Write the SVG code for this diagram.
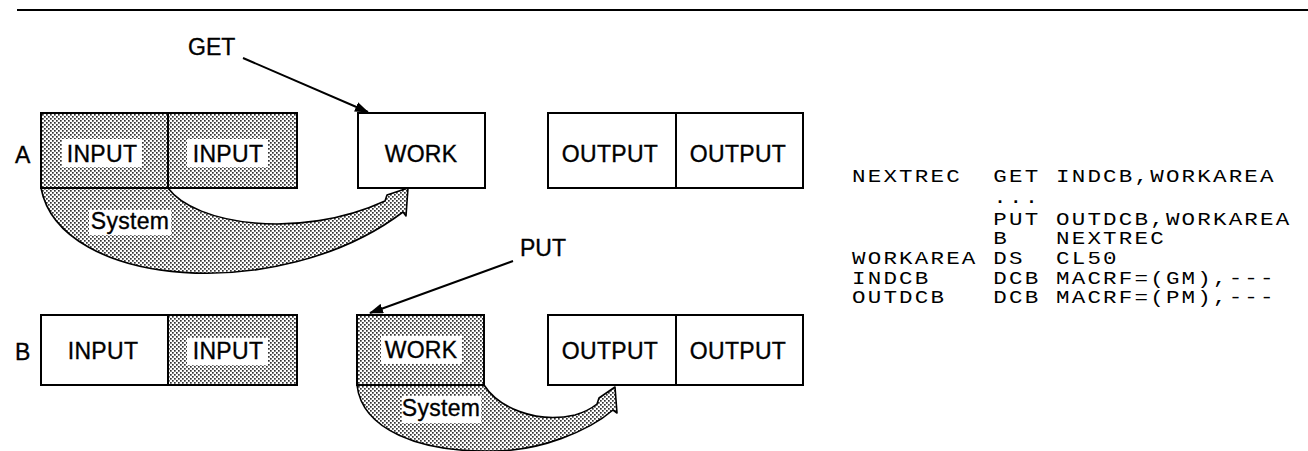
<svg xmlns="http://www.w3.org/2000/svg" width="1308" height="451" viewBox="0 0 1308 451">
  <defs>
    <!-- halftone stipple used for shaded buffers and the system-move arrows -->
    <pattern id="dots" width="4" height="4" patternUnits="userSpaceOnUse">
      <rect width="4" height="4" fill="#fff"/>
      <rect x="0" y="0" width="1.7" height="1.7" fill="#333"/>
      <rect x="2" y="2" width="1.7" height="1.7" fill="#333"/>
    </pattern>
    <marker id="head" viewBox="0 0 14 10" refX="13" refY="5" markerWidth="14" markerHeight="10" markerUnits="userSpaceOnUse" orient="auto">
      <path d="M0,0 L14,5 L0,10 Z" fill="#000"/>
    </marker>
    <style>
      .box { stroke: #000; stroke-width: 2; }
      .plain { fill: #fff; }
      .shade { fill: url(#dots); }
      .lbl { font-family: "Liberation Sans", Arial, sans-serif; font-size: 23px; fill: #000; stroke: #000; stroke-width: 0.35; text-anchor: middle; letter-spacing: 0.3px; }
      .tag { font-family: "Liberation Sans", Arial, sans-serif; font-size: 23px; fill: #000; stroke: #000; stroke-width: 0.35; }
      .bg { fill: #fff; }
      .flow { fill: url(#dots); stroke: #000; stroke-width: 1.6; stroke-linejoin: round; }
      .ptr { stroke: #000; stroke-width: 2; fill: none; marker-end: url(#head); }
      .code { font-family: "Liberation Mono", "Courier New", monospace; font-size: 18.5px; letter-spacing: 1.8px; fill: #000; }
    </style>
  </defs>

  <rect width="1308" height="451" fill="#fff"/>
  <!-- page rule -->
  <line x1="17" y1="10" x2="1308" y2="10" stroke="#000" stroke-width="2"/>

  <!-- connectors: macro pointers and system moves -->
  <g id="connectors">
    <line class="ptr" x1="243" y1="58" x2="368" y2="112"/>
    <text class="tag" x="188" y="55">GET</text>
    <line class="ptr" x1="513" y1="261" x2="370" y2="313"/>
    <text class="tag" x="520" y="256">PUT</text>

    <!-- A: system moves record from input buffer into work area -->
    <path class="flow" d="M41,188 L168,188 C195,225 300,240 385,201 L387,195 L408,188 L406,216 L403,212 C280,305 60,288 41,188 Z"/>
    <rect class="bg" x="89" y="210" width="82" height="25"/>
    <text class="lbl" x="130" y="229">System</text>

    <!-- B: system moves record from work area into output buffer -->
    <path class="flow" d="M357,385 L484,385 C498,407 535,424 575,415 C585,412 592,408 597,404 L599,398 L615,387 L617,413 L613,410 C590,430 540,452 490,451 C420,452 362,430 357,385 Z"/>
    <rect class="bg" x="402" y="396" width="79" height="27"/>
    <text class="lbl" x="441" y="416">System</text>
  </g>

  <!-- row A -->
  <text class="tag" x="15" y="163">A</text>
  <g id="a-input1">
    <rect class="box shade" x="41" y="113" width="127" height="75"/>
    <rect class="bg" x="62" y="139" width="80" height="28"/>
    <text class="lbl" x="102" y="162">INPUT</text>
  </g>
  <g id="a-input2">
    <rect class="box shade" x="168" y="113" width="129" height="75"/>
    <rect class="bg" x="187" y="139" width="81" height="28"/>
    <text class="lbl" x="228" y="162">INPUT</text>
  </g>
  <g id="a-work">
    <rect class="box plain" x="358" y="113" width="127" height="75"/>
    <text class="lbl" x="421" y="162">WORK</text>
  </g>
  <g id="a-output1">
    <rect class="box plain" x="548" y="113" width="128" height="75"/>
    <text class="lbl" x="610" y="162">OUTPUT</text>
  </g>
  <g id="a-output2">
    <rect class="box plain" x="676" y="113" width="127" height="75"/>
    <text class="lbl" x="738" y="162">OUTPUT</text>
  </g>

  <!-- row B -->
  <text class="tag" x="15" y="360">B</text>
  <g id="b-input1">
    <rect class="box plain" x="41" y="315" width="127" height="70"/>
    <text class="lbl" x="103" y="359">INPUT</text>
  </g>
  <g id="b-input2">
    <rect class="box shade" x="168" y="315" width="129" height="70"/>
    <rect class="bg" x="187" y="338" width="81" height="27"/>
    <text class="lbl" x="228" y="359">INPUT</text>
  </g>
  <g id="b-work">
    <rect class="box shade" x="357" y="315" width="127" height="70"/>
    <rect class="bg" x="381" y="336" width="81" height="28"/>
    <text class="lbl" x="421" y="358">WORK</text>
  </g>
  <g id="b-output1">
    <rect class="box plain" x="548" y="315" width="128" height="70"/>
    <text class="lbl" x="610" y="359">OUTPUT</text>
  </g>
  <g id="b-output2">
    <rect class="box plain" x="676" y="315" width="127" height="70"/>
    <text class="lbl" x="738" y="359">OUTPUT</text>
  </g>

  <!-- assembler listing -->
  <g id="listing" transform="translate(852 0) scale(1.217 1)">
    <text class="code" xml:space="preserve" x="0" y="182">NEXTREC  GET INDCB,WORKAREA</text>
    <text class="code" xml:space="preserve" x="0" y="203">         ...</text>
    <text class="code" xml:space="preserve" x="0" y="225">         PUT OUTDCB,WORKAREA</text>
    <text class="code" xml:space="preserve" x="0" y="244">         B   NEXTREC</text>
    <text class="code" xml:space="preserve" x="0" y="264">WORKAREA DS  CL50</text>
    <text class="code" xml:space="preserve" x="0" y="284">INDCB    DCB MACRF=(GM),---</text>
    <text class="code" xml:space="preserve" x="0" y="303">OUTDCB   DCB MACRF=(PM),---</text>
  </g>
</svg>
